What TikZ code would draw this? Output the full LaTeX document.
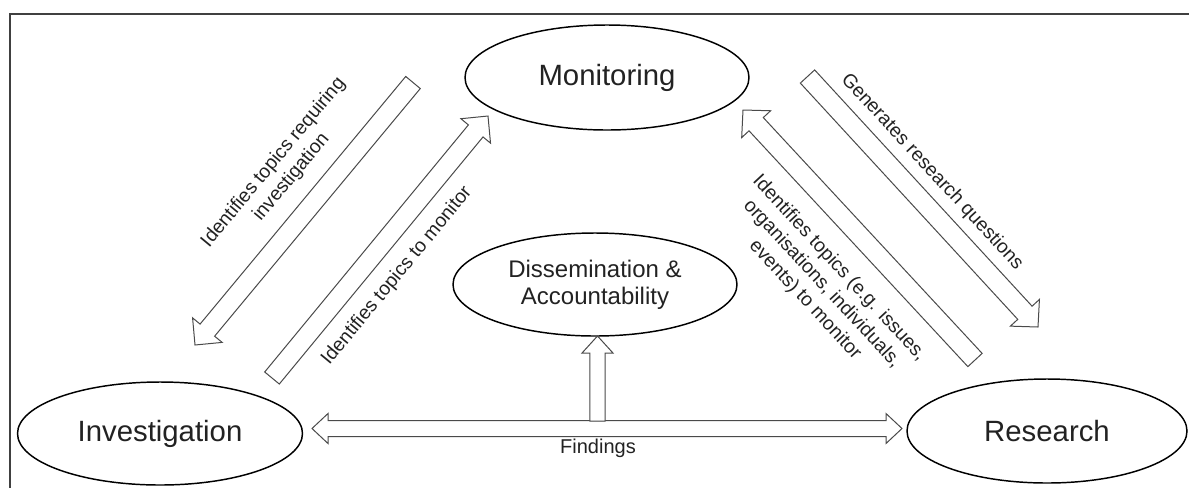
\documentclass[tikz,border=0pt]{standalone}
\usepackage{fontspec}
\setmainfont{Liberation Sans}
\usetikzlibrary{shapes.geometric,calc}
\definecolor{framec}{HTML}{404040}
\definecolor{arrc}{HTML}{4A4A4A}
\definecolor{txtc}{HTML}{222222}
% #1 tail, #2 tip, #3 prefix, #4 half shaft, #5 half head, #6 head length
\newcommand{\blockarrow}[6]{%
  \coordinate (#3b) at ($(#2)!#6!(#1)$);
  \draw[barrow] ($(#1)!#4!90:(#2)$) -- ($(#3b)!#4!-90:(#1)$) -- ($(#3b)!#5!-90:(#1)$) -- (#2)
     -- ($(#3b)!#5!90:(#1)$) -- ($(#3b)!#4!90:(#1)$) -- ($(#1)!#4!-90:(#2)$) -- cycle;}
\begin{document}
\begin{tikzpicture}[x=0.75pt,y=-0.75pt,
  ell/.style={ellipse, draw=black, line width=1.1pt, inner sep=0pt, text=txtc,
    font=\fontsize{22}{26}\selectfont},
  barrow/.style={draw=arrc, line width=0.75pt, fill=white, line join=miter},
  lbl/.style={text=txtc, font=\fontsize{14.5}{17.5}\selectfont, align=center, inner sep=0pt}]
\useasboundingbox (0,0) rectangle (1189,487);
% frame
\draw[framec, line width=1.5pt] (10,500) -- (10,14) -- (1200,14);
% main nodes
\node[ell, minimum width=213pt, minimum height=78.75pt] (mon) at (607,77.5) {Monitoring};
\node[ell, minimum width=213pt, minimum height=77.25pt, align=center,
      font=\fontsize{18}{20.25}\selectfont] (dis) at (595,284.5) {Dissemination \&\\Accountability};
\node[ell, minimum width=213.75pt, minimum height=77.25pt] (inv) at (160,433.5) {Investigation};
\node[ell, minimum width=210pt, minimum height=78pt] (res) at (1047,431) {Research};
% connector end points
\coordinate (aT) at (413,82.5);  \coordinate (aH) at (195,345);
\coordinate (bT) at (272,378);   \coordinate (bH) at (488,116);
\coordinate (cT) at (807.5,76.5);\coordinate (cH) at (1038,327);
\coordinate (dT) at (975,360);   \coordinate (dH) at (743,110);
\coordinate (fL) at (312,428.5); \coordinate (fR) at (902,428.5);
\coordinate (vT) at (597.5,421); \coordinate (vH) at (597.5,336);
% diagonal block arrows
\blockarrow{aT}{aH}{a}{7.1pt}{14.4pt}{14.5pt}
\blockarrow{bT}{bH}{b}{7.1pt}{14.4pt}{14.5pt}
\blockarrow{cT}{cH}{c}{7.3pt}{14.8pt}{14.5pt}
\blockarrow{dT}{dH}{d}{7.3pt}{14.8pt}{14.5pt}
% findings double arrow
\coordinate (fLb) at ($(fL)!12pt!(fR)$);
\coordinate (fRb) at ($(fR)!12pt!(fL)$);
\draw[barrow] (fL) -- ($(fLb)+(0,-15)$) -- ($(fLb)+(0,-8)$) -- ($(fRb)+(0,-8)$) -- ($(fRb)+(0,-15)$)
  -- (fR) -- ($(fRb)+(0,15)$) -- ($(fRb)+(0,8)$) -- ($(fLb)+(0,8)$) -- ($(fLb)+(0,15)$) -- cycle;
% vertical arrow to dissemination
\blockarrow{vT}{vH}{v}{5.8pt}{11.6pt}{12.75pt}
% labels
\node[lbl, rotate=50.3] (la) at (282.5,170) {Identifies topics requiring\\investigation};
\node[lbl, rotate=50.5] (lb) at (397,276) {Identifies topics to monitor};
\node[lbl, rotate=-47.4] (lc) at (932,172) {Generates research questions};
\node[lbl, rotate=-47.1] (ld) at (822,284) {Identifies topics (e.g. issues,\\organisations, individuals,\\events) to monitor};
\node[lbl, font=\fontsize{15}{18}\selectfont] (lf) at (598,448) {Findings};
\end{tikzpicture}
\end{document}
